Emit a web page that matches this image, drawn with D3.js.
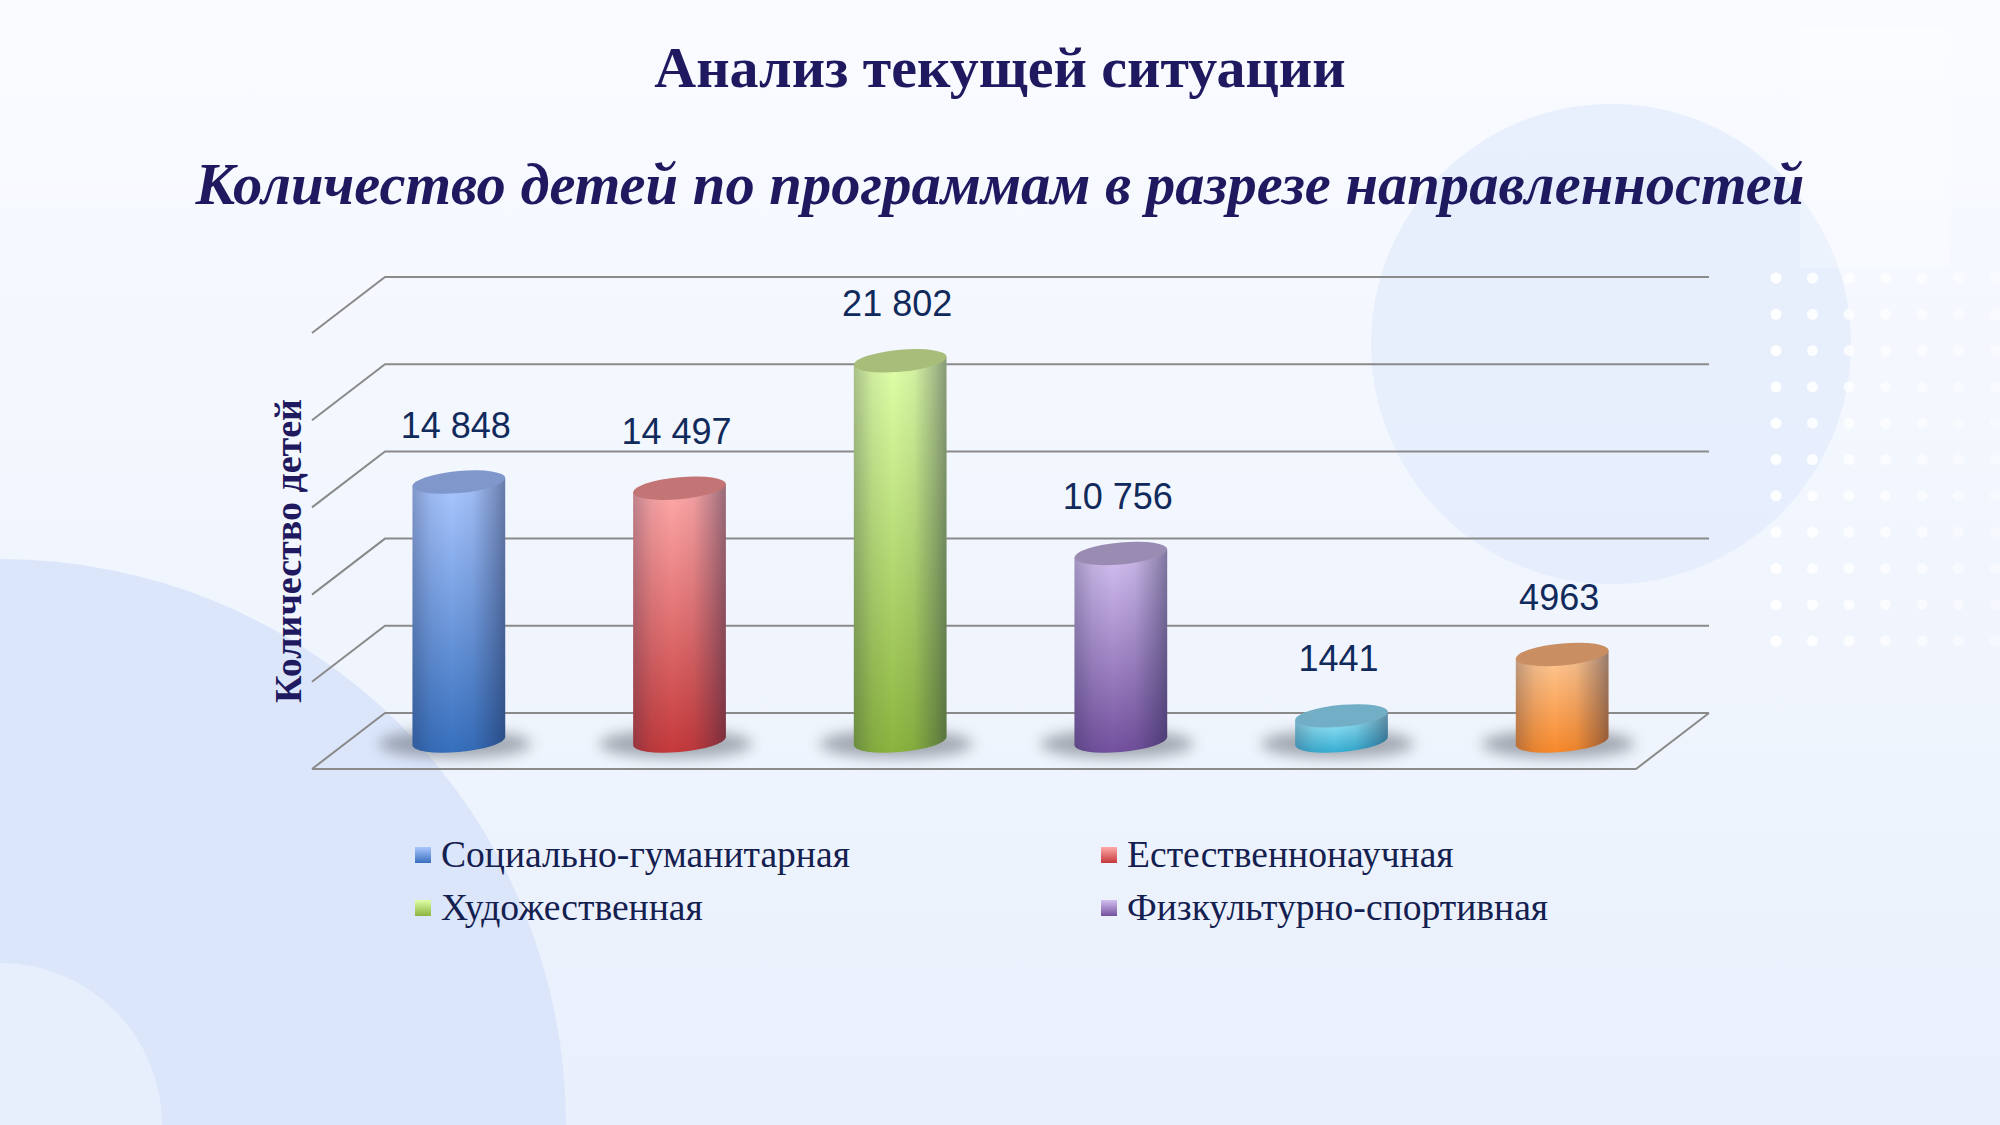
<!DOCTYPE html>
<html>
<head>
<meta charset="utf-8">
<script src="https://cdnjs.cloudflare.com/ajax/libs/d3/7.8.5/d3.min.js"></script>
<style>
  html, body { margin: 0; padding: 0; overflow: hidden; background: #f4f7fe; }
</style>
</head>
<body>
<div id="chart"></div>
<script>
// data
const categories = [
  "Социально-гуманитарная",
  "Естественнонаучная",
  "Художественная",
  "Физкультурно-спортивная",
  "Туристско-краеведческая",
  "Техническая"
];
const values = [14848, 14497, 21802, 10756, 1441, 4963];
const valueLabels = ["14 848", "14 497", "21 802", "10 756", "1441", "4963"];
const ticks = [0, 5000, 10000, 15000, 20000, 25000];
const legendShown = 4; // only the first four keys fit in the legend box

// colours: light top, dark bottom, cap
const topColors = ["#aac7ff", "#ffa9a9", "#e0ffa8", "#d3c0f0", "#a2ebfb", "#ffc996"];
const bottomColors = ["#366fbd", "#c5393a", "#8ab43e", "#73509e", "#36aed2", "#f8892a"];
const capColors = ["#7f97cb", "#c37475", "#a7bd79", "#9a8bb3", "#72afc6", "#c98e62"];

const W = 2000, H = 1125;
const svg = d3.select("#chart").append("svg")
  .attr("width", W)
  .attr("height", H);
const defs = svg.append("defs");

// Background
const bgGrad = defs.append("linearGradient").attr("id", "bg")
  .attr("x1", 0).attr("y1", 0).attr("x2", 0).attr("y2", 1);
bgGrad.append("stop").attr("offset", "0%").attr("stop-color", "#f9fbff");
bgGrad.append("stop").attr("offset", "100%").attr("stop-color", "#e9f0fc");
svg.append("rect").attr("width", W).attr("height", H).attr("fill", "url(#bg)");

svg.append("circle").attr("cx", 1611).attr("cy", 344).attr("r", 240)
  .attr("fill", "#e3ecfc").attr("opacity", 0.8);
svg.append("rect").attr("x", 1800).attr("y", 28).attr("width", 150).attr("height", 240)
  .attr("fill", "#ffffff").attr("opacity", 0.25);
svg.append("circle").attr("cx", 0).attr("cy", 1125).attr("r", 566)
  .attr("fill", "#dbe6fb");
svg.append("circle").attr("cx", 0).attr("cy", 1125).attr("r", 162)
  .attr("fill", "#e8effc");

// dot grid on the right
const dotCols = d3.range(7), dotRows = d3.range(11);
svg.append("g").selectAll("circle")
  .data(d3.cross(dotCols, dotRows))
  .join("circle")
  .attr("cx", (d) => 1776 + d[0] * 36.5)
  .attr("cy", (d) => 278 + d[1] * 36.3)
  .attr("r", 5.5)
  .attr("fill", "#ffffff")
  .attr("opacity", (d) => 0.95 - d[0] * 0.1);

// Titles
svg.append("text")
  .attr("x", 1000).attr("y", 87)
  .attr("text-anchor", "middle")
  .style("font-family", "'Liberation Serif', 'Times New Roman', serif")
  .style("font-weight", "bold")
  .style("font-size", "58px")
  .attr("fill", "#1f1a60")
  .text("Анализ текущей ситуации");

svg.append("text")
  .attr("x", 1000).attr("y", 204)
  .attr("text-anchor", "middle")
  .style("font-family", "'Liberation Serif', 'Times New Roman', serif")
  .style("font-weight", "bold")
  .style("font-style", "italic")
  .style("font-size", "58.6px")
  .attr("fill", "#1f1a60")
  .text("Количество детей по программам в разрезе направленностей");

// 3D frame
const wallLeft = 385, wallRight = 1709;
const depthX = -73, depthY = 56;

const xScale = d3.scaleBand()
  .domain(categories)
  .range([wallLeft, wallRight])
  .padding(0);

const yScale = d3.scaleLinear()
  .domain([0, 25000])
  .range([713, 277]);

const grid = svg.append("g")
  .attr("stroke", "#8a8a8a")
  .attr("stroke-width", 2)
  .attr("fill", "none");

grid.selectAll("path.tick")
  .data(ticks)
  .join("path")
  .attr("class", "tick")
  .attr("d", (t) => `M${wallLeft + depthX},${yScale(t) + depthY}L${wallLeft},${yScale(t)}L${wallRight},${yScale(t)}`);

// floor front and right edges
grid.append("path")
  .attr("d", `M${wallLeft + depthX},${yScale(0) + depthY}L${wallRight + depthX},${yScale(0) + depthY}L${wallRight},${yScale(0)}`);

// Axis title
svg.append("text")
  .attr("transform", `translate(301, 551) rotate(-90)`)
  .attr("text-anchor", "middle")
  .style("font-family", "'Liberation Serif', 'Times New Roman', serif")
  .style("font-weight", "bold")
  .style("font-size", "38px")
  .attr("fill", "#1f1a60")
  .text("Количество детей");

// gradients for cylinders
categories.forEach((c, i) => {
  const g = defs.append("linearGradient").attr("id", "body" + i)
    .attr("x1", 0).attr("y1", 0).attr("x2", 0).attr("y2", 1);
  g.append("stop").attr("offset", "0%").attr("stop-color", topColors[i]);
  g.append("stop").attr("offset", "100%").attr("stop-color", bottomColors[i]);
});
const shade = defs.append("linearGradient").attr("id", "shade")
  .attr("x1", 0).attr("y1", 0).attr("x2", 1).attr("y2", 0);
[[0, 0.28], [0.2, 0.08], [0.42, 0], [0.65, 0.06], [0.88, 0.3], [1, 0.45]].forEach((s) => {
  shade.append("stop").attr("offset", s[0]).attr("stop-color", "#1a2040").attr("stop-opacity", s[1]);
});
const blur = defs.append("filter").attr("id", "blur")
  .attr("x", "-50%").attr("y", "-100%").attr("width", "200%").attr("height", "300%");
blur.append("feGaussianBlur").attr("stdDeviation", 7);

// Cylinders
const rx = xScale.bandwidth() * 0.21;
const ry = 11;
const baseY = yScale(0) + depthY / 2;

const bars = svg.append("g")
  .selectAll("g")
  .data(values)
  .join("g")
  .attr("transform", (d, i) => `translate(${xScale(categories[i]) + xScale.bandwidth() / 2 + depthX / 2},0)`);

bars.append("ellipse")
  .attr("cx", -4).attr("cy", baseY + 3)
  .attr("rx", rx * 1.65).attr("ry", 14)
  .attr("fill", "#50565f")
  .attr("opacity", 0.48)
  .attr("filter", "url(#blur)");

const cyl = bars.append("g").attr("transform", "skewY(-5)");

const bodyPath = (d) => {
  const top = yScale(d) + depthY / 2;
  return `M${-rx},${top}V${baseY}A${rx},${ry} 0 0 0 ${rx},${baseY}V${top}Z`;
};

cyl.append("path")
  .attr("d", bodyPath)
  .attr("fill", (d, i) => `url(#body${i})`);
cyl.append("path")
  .attr("d", bodyPath)
  .attr("fill", "url(#shade)");
cyl.append("ellipse")
  .attr("cx", 0)
  .attr("cy", (d) => yScale(d) + depthY / 2)
  .attr("rx", rx).attr("ry", ry)
  .attr("fill", (d, i) => capColors[i]);

// value labels
bars.append("text")
  .attr("x", -3)
  .attr("y", (d) => yScale(d) + depthY / 2 - 57)
  .attr("dy", "0.35em")
  .attr("text-anchor", "middle")
  .style("font-family", "'Liberation Sans', Arial, sans-serif")
  .style("font-size", "36px")
  .attr("fill", "#112a5c")
  .text((d, i) => valueLabels[i]);

// Legend
categories.slice(0, legendShown).forEach((c, i) => {
  const g = defs.append("linearGradient").attr("id", "key" + i)
    .attr("x1", 0).attr("y1", 0).attr("x2", 0).attr("y2", 1);
  g.append("stop").attr("offset", "0%").attr("stop-color", topColors[i]);
  g.append("stop").attr("offset", "100%").attr("stop-color", bottomColors[i]);
});

const legend = svg.append("g")
  .selectAll("g")
  .data(categories.slice(0, legendShown))
  .join("g")
  .attr("transform", (d, i) => `translate(${i % 2 === 0 ? 415 : 1101},${i < 2 ? 855 : 908})`);

legend.append("rect")
  .attr("x", 0).attr("y", -8)
  .attr("width", 16).attr("height", 16)
  .attr("fill", (d, i) => `url(#key${i})`);

legend.append("text")
  .attr("x", 26).attr("y", 0)
  .attr("dy", "0.33em")
  .style("font-family", "'Liberation Serif', 'Times New Roman', serif")
  .style("font-size", "37.6px")
  .attr("fill", "#14204f")
  .text((d) => d);
</script>
</body>
</html>
